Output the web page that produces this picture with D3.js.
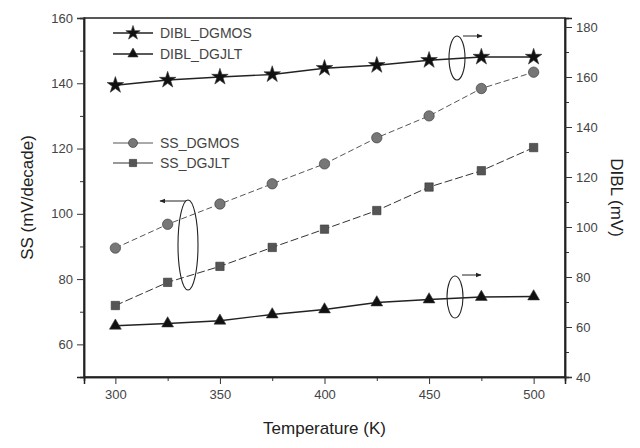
<!DOCTYPE html>
<html>
<head>
<meta charset="utf-8">
<script src="https://cdn.jsdelivr.net/npm/d3@7"></script>
<style>
  body { margin: 0; background: #fff; }
  svg { font-family: "Liberation Sans", Arial, sans-serif; }
</style>
</head>
<body>
<div id="chart"></div>
<script>
const W = 640, H = 448;
const temps = [300, 325, 350, 375, 400, 425, 450, 475, 500];
const ssDGMOS = [89.5, 96.8, 103, 109.2, 115.3, 123.3, 130, 138.4, 143.4];
const ssDGJLT = [71.9, 79, 83.9, 89.7, 95.3, 101, 108.2, 113.2, 120.3];
const diblDGMOS = [156.7, 158.8, 160, 161, 163.5, 164.7, 166.7, 168, 168];
const diblDGJLT = [60.5, 61.4, 62.5, 65, 67, 69.8, 71, 72, 72.2];
const xTicks = [300, 350, 400, 450, 500];
const ssTicks = [60, 80, 100, 120, 140, 160];
const diblTicks = [40, 60, 80, 100, 120, 140, 160, 180];

const m = { left: 84, right: 75, top: 18, bottom: 71 };
const x = d3.scaleLinear().domain([285, 515]).range([m.left, W - m.right]);
const yL = d3.scaleLinear().domain([50, 160]).range([H - m.bottom, m.top]);
const yR = d3.scaleLinear().domain([40, 183.6]).range([H - m.bottom, m.top]);

const svg = d3.select("#chart").append("svg").attr("width", W).attr("height", H);

// frame
svg.append("rect")
  .attr("x", m.left).attr("y", m.top)
  .attr("width", W - m.right - m.left).attr("height", H - m.bottom - m.top)
  .attr("fill", "none").attr("stroke", "#222").attr("stroke-width", 1.5);

function styleAxis(g) {
  g.select(".domain").attr("stroke", "#222").attr("stroke-width", 1.5);
  g.selectAll(".tick line").attr("stroke", "#333");
  g.selectAll(".tick text").attr("fill", "#444").attr("font-size", 13);
}

// minor ticks first
svg.append("g").attr("transform", `translate(0,${H - m.bottom})`)
  .call(d3.axisBottom(x).tickValues([325, 375, 425, 475]).tickSize(4).tickFormat(""))
  .call(styleAxis);
svg.append("g").attr("transform", `translate(${m.left},0)`)
  .call(d3.axisLeft(yL).tickValues([50, 70, 90, 110, 130, 150]).tickSize(4).tickFormat(""))
  .call(styleAxis);
svg.append("g").attr("transform", `translate(${W - m.right},0)`)
  .call(d3.axisRight(yR).tickValues([50, 70, 90, 110, 130, 150, 170]).tickSize(4).tickFormat(""))
  .call(styleAxis);

svg.append("g").attr("transform", `translate(0,${H - m.bottom})`)
  .call(d3.axisBottom(x).tickValues(xTicks).tickSize(7).tickPadding(6))
  .call(styleAxis);
svg.append("g").attr("transform", `translate(${m.left},0)`)
  .call(d3.axisLeft(yL).tickValues(ssTicks).tickSize(7).tickPadding(4))
  .call(styleAxis);
svg.append("g").attr("transform", `translate(${W - m.right},0)`)
  .call(d3.axisRight(yR).tickValues(diblTicks).tickSize(7).tickPadding(4))
  .call(styleAxis);

// axis titles
svg.append("text").attr("x", (m.left + W - m.right) / 2).attr("y", 434)
  .attr("text-anchor", "middle").attr("font-size", 17).attr("fill", "#222")
  .text("Temperature (K)");
svg.append("text").attr("transform", `translate(33,${(m.top + H - m.bottom) / 2}) rotate(-90)`)
  .attr("text-anchor", "middle").attr("font-size", 17).attr("fill", "#222")
  .text("SS (mV/decade)");
svg.append("text").attr("transform", `translate(611,${(m.top + H - m.bottom) / 2}) rotate(90)`)
  .attr("text-anchor", "middle").attr("font-size", 17).attr("fill", "#222")
  .text("DIBL (mV)");

const series = [
  { name: "DIBL_DGMOS", vals: diblDGMOS, y: yR, sym: d3.symbolStar, size: 85, fill: "#111", line: "#222", dash: null, lw: 1.3 },
  { name: "DIBL_DGJLT", vals: diblDGJLT, y: yR, sym: d3.symbolTriangle, size: 60, fill: "#111", line: "#222", dash: null, lw: 1.3 },
  { name: "SS_DGMOS", vals: ssDGMOS, y: yL, sym: d3.symbolCircle, size: 85, fill: "#777", line: "#555", dash: "6,3", lw: 1 },
  { name: "SS_DGJLT", vals: ssDGJLT, y: yL, sym: d3.symbolSquare, size: 70, fill: "#555", line: "#333", dash: "8,3", lw: 1 },
];

series.forEach(s => {
  const line = d3.line().x((d, i) => x(temps[i])).y(d => s.y(d));
  svg.append("path").datum(s.vals)
    .attr("d", line).attr("fill", "none")
    .attr("stroke", s.line).attr("stroke-width", s.lw)
    .attr("stroke-dasharray", s.dash);
  svg.append("g").selectAll("path").data(s.vals).join("path")
    .attr("transform", (d, i) => `translate(${x(temps[i])},${s.y(d)})`)
    .attr("d", d3.symbol().type(s.sym).size(s.size))
    .attr("fill", s.fill).attr("stroke", "#333").attr("stroke-width", 0.6);
});

// legends
const legendRows = [
  { s: series[0], y: 33 }, { s: series[1], y: 54 },
  { s: series[2], y: 143 }, { s: series[3], y: 163 },
];
legendRows.forEach(r => {
  const g = svg.append("g");
  g.append("line").attr("x1", 113).attr("x2", 153).attr("y1", r.y).attr("y2", r.y)
    .attr("stroke", r.s.line).attr("stroke-width", r.s.lw);
  g.append("path").attr("transform", `translate(133,${r.y})`)
    .attr("d", d3.symbol().type(r.s.sym).size(r.s.size * 0.75))
    .attr("fill", r.s.fill).attr("stroke", "#333").attr("stroke-width", 0.6);
  g.append("text").attr("x", 160).attr("y", r.y + 5)
    .attr("font-size", 14).attr("fill", "#444").text(r.s.name);
});

// ellipses with arrows
svg.append("defs").append("marker").attr("id", "arr")
  .attr("viewBox", "0 0 10 10").attr("refX", 9).attr("refY", 5)
  .attr("markerWidth", 6).attr("markerHeight", 6).attr("orient", "auto")
  .append("path").attr("d", "M0,1 L10,5 L0,9 Z").attr("fill", "#222");

const ellipses = [
  { cx: 457, cy: 58, rx: 8, ry: 22, ax1: 463, ay: 36, ax2: 482 },
  { cx: 188, cy: 245, rx: 10, ry: 45, ax1: 186, ay: 201, ax2: 160 },
  { cx: 455, cy: 297, rx: 8, ry: 21, ax1: 462, ay: 275, ax2: 481 },
];
ellipses.forEach(e => {
  svg.append("ellipse").attr("cx", e.cx).attr("cy", e.cy).attr("rx", e.rx).attr("ry", e.ry)
    .attr("fill", "none").attr("stroke", "#222").attr("stroke-width", 1.1);
  svg.append("line").attr("x1", e.ax1).attr("y1", e.ay).attr("x2", e.ax2).attr("y2", e.ay)
    .attr("stroke", "#222").attr("stroke-width", 1).attr("marker-end", "url(#arr)");
});
</script>
</body>
</html>
